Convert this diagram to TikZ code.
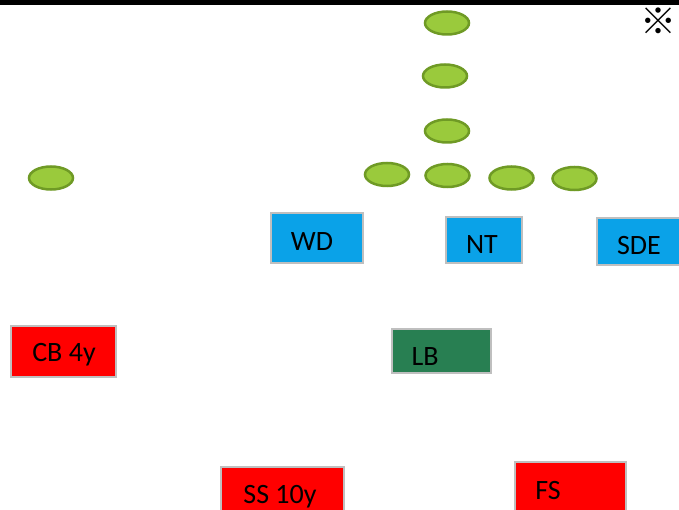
\documentclass[tikz,border=0pt]{standalone}
\usepackage{fontspec}
\setmainfont{Carlito}
\newfontfamily\cjkf{Noto Sans CJK SC}
\usetikzlibrary{shapes.geometric}
\definecolor{plfill}{HTML}{9ACA3C}
\definecolor{pldraw}{HTML}{6F9A25}
\definecolor{dblue}{HTML}{0AA2E8}
\definecolor{lbgreen}{HTML}{287F52}
\definecolor{bordergray}{HTML}{BFBFBF}
\tikzset{
  player/.style={ellipse, draw=pldraw, fill=plfill, line width=2.5pt, minimum width=44pt, minimum height=23pt, inner sep=0pt},
  defbox/.style={draw=bordergray, line width=1.5pt, inner sep=0pt},
  bluebox/.style={defbox, fill=dblue},
  redbox/.style={defbox, fill=red},
  greenbox/.style={defbox, fill=lbgreen},
  lbl/.style={font=\fontsize{28}{32}\selectfont, text=black, inner sep=0pt}
}
\begin{document}
\begin{tikzpicture}[x=1pt,y=-1pt]
\useasboundingbox (0,0) rectangle (679,510);
\clip (0,0) rectangle (679,510);
\fill[white] (0,0) rectangle (679,510);
\fill[black] (0,0) rectangle (679,5);
\node[font=\cjkf\bfseries\fontsize{36}{40}\selectfont, anchor=west, inner sep=0pt] (note) at (640,21) {※};
% offense
\node[player] (c1) at (447,23) {};
\node[player] (c2) at (445,76) {};
\node[player] (c3) at (447,131) {};
\node[player] (wr) at (51,178) {};
\node[player] (lg) at (387,174.5) {};
\node[player] (ct) at (447.5,175.5) {};
\node[player] (rg) at (511.5,178) {};
\node[player] (rt) at (574.5,178.5) {};
% defense
\node[bluebox, minimum width=92pt, minimum height=50pt] (wd) at (317,238) {};
\node[lbl] at (312,242) {WD};
\node[bluebox, minimum width=76pt, minimum height=46pt] (nt) at (484,240) {};
\node[lbl] at (482,245) {NT};
\node[bluebox, minimum width=93pt, minimum height=47pt] (sde) at (643.5,241.5) {};
\node[lbl] at (639,246) {SDE};
\node[redbox, minimum width=105pt, minimum height=51pt] (cb) at (63.5,351.5) {};
\node[lbl] at (64,355) {CB 4y};
\node[greenbox, minimum width=99pt, minimum height=44pt] (lb) at (441.5,351) {};
\node[lbl] at (425,357) {LB};
\node[redbox, minimum width=123pt, minimum height=53pt] (ss) at (282.5,493.5) {};
\node[lbl] at (280,497) {SS 10y};
\node[redbox, minimum width=111pt, minimum height=50pt] (fs) at (570.5,487) {};
\node[lbl] at (548,491) {FS};
\end{tikzpicture}
\end{document}
